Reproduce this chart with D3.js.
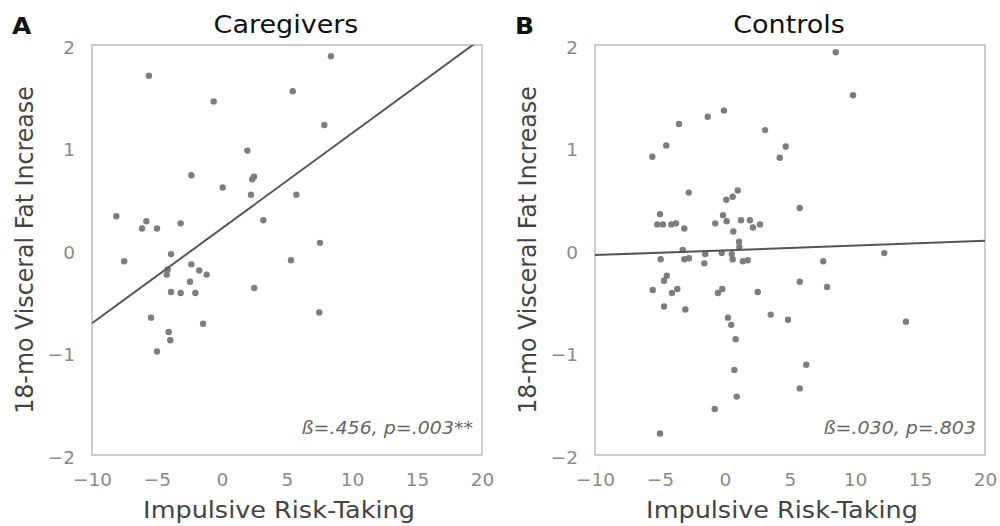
<!DOCTYPE html>
<html><head><meta charset="utf-8">
<script src="https://cdn.jsdelivr.net/npm/d3@7"></script>
<style>
body{margin:0;background:#fff;}
svg text{font-family:"DejaVu Sans",sans-serif;}
</style></head>
<body><svg id="c" width="1000" height="526"></svg>
<script>
const caregiversX = [-5.62,-0.64,5.44,1.95,-2.36,0.05,2.33,2.46,2.23,-8.13,3.18,-5.82,-6.15,-5.0,-3.18,8.38,7.87,5.72,7.54,-7.52,-3.92,-4.18,-4.25,-2.36,-1.75,-1.18,-2.46,-3.92,-3.18,-2.05,2.48,5.31,-5.46,-1.46,-4.1,-3.98,-5.0,7.48];
const caregiversY = [1.70,1.45,1.55,0.97,0.73,0.61,0.69,0.715,0.54,0.33,0.29,0.28,0.21,0.21,0.26,1.89,1.22,0.54,0.07,-0.11,-0.04,-0.19,-0.24,-0.14,-0.20,-0.24,-0.31,-0.41,-0.42,-0.42,-0.37,-0.10,-0.66,-0.72,-0.80,-0.88,-0.99,-0.61];
const controlsX = [-5.59,-4.52,-3.54,-1.33,-0.08,3.08,4.67,4.21,-2.79,0.98,0.59,0.10,-5.0,-5.21,-4.77,-4.13,-3.77,-3.13,-0.75,-0.15,0.13,1.23,1.92,2.15,2.69,0.64,1.08,1.10,-3.25,8.52,9.85,5.75,-4.95,-3.13,-2.77,-1.52,-1.59,-0.25,0.52,0.59,1.38,1.75,-4.48,-4.69,-5.56,-4.08,-3.67,-0.54,-0.21,2.52,-4.69,-3.05,0.23,0.48,3.52,4.85,0.82,0.72,0.90,-0.79,-5.0,12.25,7.56,5.75,7.85,13.92,6.25,5.75];
const controlsY = [0.91,1.02,1.23,1.30,1.36,1.17,1.01,0.90,0.56,0.58,0.52,0.49,0.35,0.25,0.25,0.25,0.26,0.21,0.26,0.34,0.28,0.29,0.29,0.22,0.25,0.18,0.08,0.03,0.0,1.93,1.51,0.41,-0.09,-0.09,-0.08,-0.04,-0.13,-0.03,-0.04,-0.09,-0.11,-0.10,-0.25,-0.30,-0.39,-0.42,-0.38,-0.42,-0.38,-0.41,-0.55,-0.58,-0.66,-0.73,-0.63,-0.68,-0.87,-1.17,-1.43,-1.55,-1.79,-0.03,-0.11,-0.31,-0.36,-0.70,-1.12,-1.35];
const fitLineX = [-10, 20];
const caregiversFitY = [-0.715, 2.066];
const controlsFitY = [-0.05, 0.09];
const xTicks = [-10,-5,0,5,10,15,20];
const yTicks = [-2,-1,0,1,2];
const panelLetters = ["A","B"];
const panelTitles = ["Caregivers","Controls"];
const statTexts = ["ß=.456, p=.003**","ß=.030, p=.803"];
const xTitle = "Impulsive Risk-Taking";
const yTitle = "18-mo Visceral Fat Increase";

const svg = d3.select("#c");
const panels = [
  {left:92, xs:caregiversX, ys:caregiversY, fit:caregiversFitY},
  {left:595, xs:controlsX, ys:controlsY, fit:controlsFitY}
];
const plotTop = 45, W = 390, H = 410;
const SQ = 0.93; // vertical squeeze of glyphs seen in the reference

panels.forEach((p,i)=>{
  const x = d3.scaleLinear().domain([-10,20]).range([0,W]);
  const y = d3.scaleLinear().domain([-2,2]).range([H,0]);
  const g = svg.append("g").attr("transform",`translate(${p.left},${plotTop})`);
  g.append("clipPath").attr("id","clip"+i).append("rect").attr("width",W).attr("height",H);

  g.append("rect").attr("width",W).attr("height",H).attr("fill","none")
   .attr("stroke","#bdbdbd").attr("stroke-width",1.5);

  const xa = g.append("g").attr("transform",`translate(0,${H})`)
    .call(d3.axisBottom(x).tickValues(xTicks).tickSize(0).tickPadding(18).tickFormat(d3.format("d")));
  xa.select(".domain").remove();
  xa.selectAll("text").attr("font-size",18.5).attr("fill","#8a8a8a").style("font-family","DejaVu Sans");
  const ya = g.append("g")
    .call(d3.axisLeft(y).tickValues(yTicks).tickSize(0).tickPadding(17).tickFormat(d3.format("d")));
  ya.select(".domain").remove();
  ya.selectAll("text").attr("font-size",18.5).attr("fill","#8a8a8a").attr("dy","0.45em").style("font-family","DejaVu Sans");

  const pts = p.xs.map((v,j)=>({x:v,y:p.ys[j]}));
  g.append("g").attr("clip-path",`url(#clip${i})`).selectAll("circle").data(pts).enter().append("circle")
    .attr("cx",d=>x(d.x)).attr("cy",d=>y(d.y)).attr("r",3.2).attr("fill","#7d7d7d");

  const line = d3.line().x(d=>x(d[0])).y(d=>y(d[1]));
  g.append("path").attr("clip-path",`url(#clip${i})`)
    .attr("d",line(fitLineX.map((v,j)=>[v,p.fit[j]])))
    .attr("stroke","#555").attr("stroke-width",2).attr("fill","none");

  g.append("text").attr("transform",`translate(${W-9},${H-21}) scale(1,${SQ})`).attr("text-anchor","end")
    .attr("font-size",19).attr("font-style","italic").attr("fill","#666").text(statTexts[i]);

  g.append("text").attr("transform",`translate(${W/2-1},-12) scale(1,${SQ})`).attr("text-anchor","middle")
    .attr("font-size",27).attr("fill","#111").text(panelTitles[i]);
  g.append("text").attr("transform",`translate(-80,-11) scale(1,${SQ})`).attr("font-size",25).attr("font-weight","bold")
    .attr("fill","#111").text(panelLetters[i]);
  g.append("text").attr("transform",`translate(${W/2-8},${H+63}) scale(1,${SQ})`).attr("text-anchor","middle")
    .attr("font-size",25.5).attr("fill","#444").text(xTitle);
  g.append("text").attr("transform",`translate(-59,${H/2}) rotate(-90) scale(${SQ},1)`).attr("text-anchor","middle")
    .attr("font-size",25.5).attr("fill","#444").text(yTitle);
});
</script></body></html>
